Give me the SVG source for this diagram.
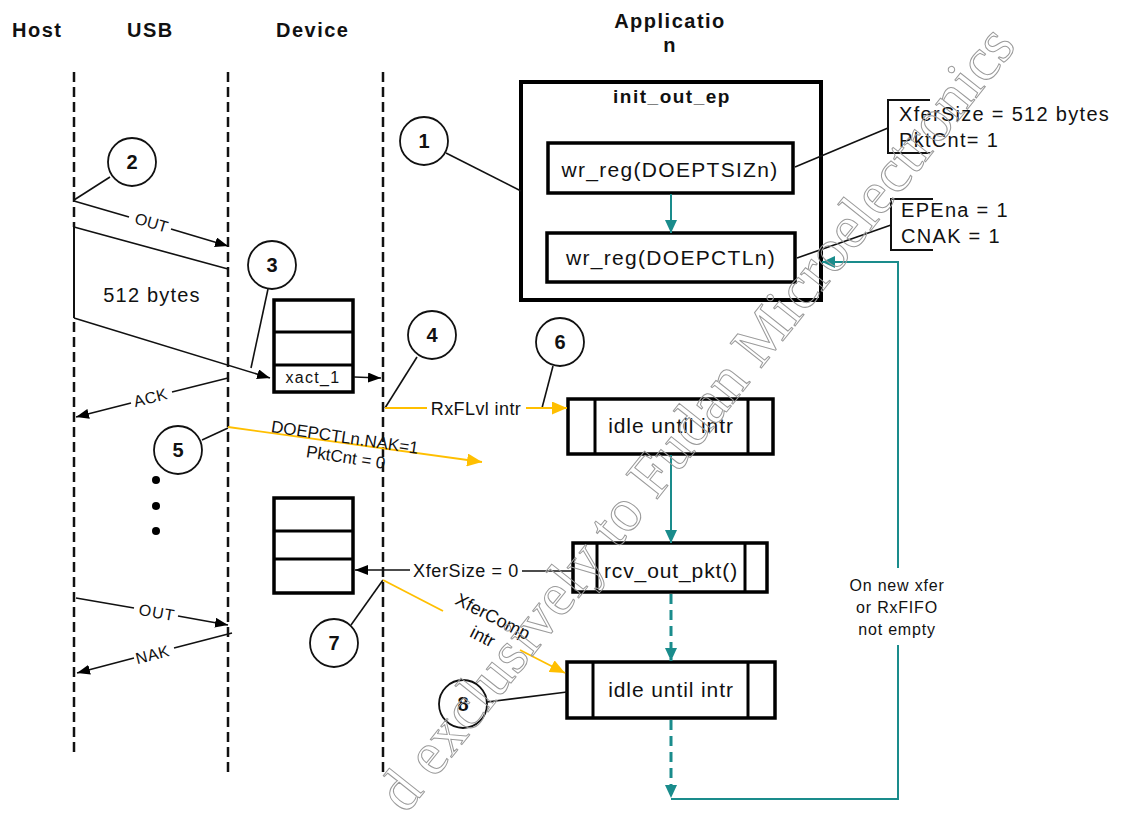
<svg xmlns="http://www.w3.org/2000/svg" width="1129" height="828" viewBox="0 0 1129 828">
<style>
.hdr{font-family:"Liberation Sans",Arial,sans-serif;font-weight:bold;font-size:20px;letter-spacing:1.5px;fill:#111}
.t{font-family:"Liberation Sans",Arial,sans-serif;fill:#111}
.life{stroke:#111;stroke-width:2.5;stroke-dasharray:10 5;fill:none}
.ln{stroke:#111;stroke-width:1.6;fill:none}
.box{stroke:#000;stroke-width:3.5;fill:#fff}
.thin{stroke:#000;stroke-width:3;fill:none}
.circ{stroke:#111;stroke-width:1.8;fill:#fff}
.yl{stroke:#FFBF00;stroke-width:1.8;fill:none}
.tl{stroke:#1a8c8c;stroke-width:2;fill:none}
.td{stroke:#1a8c8c;stroke-width:3;stroke-dasharray:10 6;fill:none}
.num{font-family:"Liberation Sans",Arial,sans-serif;font-weight:bold;font-size:20px;fill:#111;text-anchor:middle}
</style>
<defs>
<marker id="ab" markerWidth="13" markerHeight="10" refX="13" refY="5" orient="auto" markerUnits="userSpaceOnUse"><path d="M0,0 L13,5 L0,10 z" fill="#000"/></marker>
<marker id="ay" markerWidth="15" markerHeight="13" refX="15" refY="6.5" orient="auto" markerUnits="userSpaceOnUse"><path d="M0,0 L15,6.5 L0,13 z" fill="#FFBF00"/></marker>
<marker id="at" markerWidth="13" markerHeight="12" refX="13" refY="6" orient="auto" markerUnits="userSpaceOnUse"><path d="M0,0 L13,6 L0,12 z" fill="#1a8c8c"/></marker>
</defs>
<rect width="1129" height="828" fill="#fff"/>

<g id="headers">
<text class="hdr" x="12" y="37">Host</text>
<text class="hdr" x="127" y="37">USB</text>
<text class="hdr" x="276" y="37">Device</text>
<text class="hdr" x="670" y="28" text-anchor="middle">Applicatio</text>
<text class="hdr" x="670" y="52" text-anchor="middle">n</text>
</g>

<g id="lifelines">
<line class="life" x1="74" y1="72" x2="74" y2="227"/>
<line x1="74" y1="227" x2="74" y2="318" stroke="#111" stroke-width="2"/>
<line class="life" x1="74" y1="322" x2="74" y2="756"/>
<line class="life" x1="228" y1="72" x2="228" y2="772"/>
<line class="life" x1="383" y1="72" x2="383" y2="772"/>
</g>

<g id="app-box">
<rect x="521" y="82" width="300" height="218" fill="#fff" stroke="#000" stroke-width="4"/>
<text class="t" x="672" y="103" text-anchor="middle" font-weight="bold" font-size="19" letter-spacing="1.5">init_out_ep</text>
</g>
<g id="wr-doeptsiz">
<rect class="box" x="548" y="143" width="245" height="50"/>
<text class="t" x="670" y="177" text-anchor="middle" font-size="21" letter-spacing="1.3">wr_reg(DOEPTSIZn)</text>
</g>
<g id="wr-doepctl">
<rect class="box" x="547" y="233" width="248" height="49"/>
<text class="t" x="671" y="265" text-anchor="middle" font-size="21" letter-spacing="1.3">wr_reg(DOEPCTLn)</text>
</g>

<g id="note-xfersize">
<path d="M930,100 H888 V153 H930" stroke="#111" stroke-width="2" fill="none"/>
<text class="t" x="899" y="121" font-size="20" letter-spacing="1.3">XferSize = 512 bytes</text>
<text class="t" x="899" y="147" font-size="20" letter-spacing="1.3">PktCnt= 1</text>
</g>
<g id="note-epena">
<path d="M933,199 H891 V250 H933" stroke="#111" stroke-width="2" fill="none"/>
<text class="t" x="901" y="217" font-size="20" letter-spacing="1.3">EPEna = 1</text>
<text class="t" x="901" y="243" font-size="20" letter-spacing="1.3">CNAK = 1</text>
</g>

<g id="buffer1">
<rect x="274" y="300" width="79" height="92" fill="#fff" stroke="#000" stroke-width="3.5"/>
<line class="thin" x1="274" y1="332" x2="353" y2="332"/>
<line class="thin" x1="274" y1="365" x2="353" y2="365"/>
<text class="t" x="313" y="383" text-anchor="middle" font-size="16" letter-spacing="1.3">xact_1</text>
</g>
<g id="buffer2">
<rect x="274" y="498" width="79" height="95" fill="#fff" stroke="#000" stroke-width="3.5"/>
<line class="thin" x1="274" y1="531" x2="353" y2="531"/>
<line class="thin" x1="274" y1="559" x2="353" y2="559"/>
</g>

<g id="idle1">
<rect class="box" x="568" y="399" width="205" height="55"/>
<line class="thin" x1="595" y1="399" x2="595" y2="454"/>
<line class="thin" x1="748" y1="399" x2="748" y2="454"/>
<text class="t" x="671" y="433" text-anchor="middle" font-size="21" letter-spacing="0.9">idle until intr</text>
</g>
<g id="rcv">
<rect class="box" x="573" y="543" width="194" height="49"/>
<line class="thin" x1="597" y1="543" x2="597" y2="592"/>
<line class="thin" x1="745" y1="543" x2="745" y2="592"/>
<text class="t" x="671" y="578" text-anchor="middle" font-size="21" letter-spacing="0.9">rcv_out_pkt()</text>
</g>
<g id="idle2">
<rect class="box" x="567" y="662" width="208" height="56"/>
<line class="thin" x1="593" y1="662" x2="593" y2="718"/>
<line class="thin" x1="748" y1="662" x2="748" y2="718"/>
<text class="t" x="671" y="697" text-anchor="middle" font-size="21" letter-spacing="0.9">idle until intr</text>
</g>

<g id="connectors">
<line class="ln" x1="110" y1="177" x2="74" y2="200"/>
<line class="ln" x1="446" y1="153" x2="521" y2="191"/>
<line class="ln" x1="268" y1="289" x2="251" y2="368"/>
<line class="ln" x1="417" y1="357" x2="385" y2="408"/>
<line class="ln" x1="553" y1="366" x2="542" y2="408"/>
<line class="ln" x1="202" y1="440" x2="228" y2="428"/>
<line class="ln" x1="351" y1="625" x2="383" y2="580"/>
<line class="ln" x1="487" y1="702" x2="567" y2="692"/>
<line class="ln" x1="795" y1="167" x2="888" y2="128"/>
<line class="ln" x1="797" y1="258" x2="891" y2="225"/>

<line class="ln" x1="74" y1="201" x2="129" y2="217"/>
<line class="ln" x1="171" y1="229" x2="228" y2="246" marker-end="url(#ab)"/>
<text class="t" x="150" y="228" text-anchor="middle" font-size="16" transform="rotate(16 150 228)">OUT</text>
<line class="ln" x1="74" y1="227" x2="228" y2="269"/>
<line class="ln" x1="74" y1="318" x2="270" y2="378" marker-end="url(#ab)"/>
<text class="t" x="152" y="302" text-anchor="middle" font-size="20" letter-spacing="1.2">512 bytes</text>
<line class="ln" x1="354" y1="377" x2="381" y2="378" marker-end="url(#ab)"/>
<line class="ln" x1="228" y1="378" x2="172" y2="392"/>
<line class="ln" x1="131" y1="403" x2="76" y2="417" marker-end="url(#ab)"/>
<text class="t" x="152" y="403" text-anchor="middle" font-size="16" letter-spacing="0.5" transform="rotate(-14.5 152 403)">ACK</text>
<line class="yl" x1="228" y1="427" x2="482" y2="462" marker-end="url(#ay)"/>
<text class="t" x="344" y="443" text-anchor="middle" font-size="17" transform="rotate(8.5 344 443)">DOEPCTLn.NAK=1</text>
<text class="t" x="345" y="463" text-anchor="middle" font-size="17" transform="rotate(8.5 345 463)">PktCnt = 0</text>
<line class="yl" x1="385" y1="408" x2="427" y2="408"/>
<line class="yl" x1="526" y1="408" x2="567" y2="408" marker-end="url(#ay)"/>
<text class="t" x="476" y="415" text-anchor="middle" font-size="18" letter-spacing="0.4">RxFLvl intr</text>
<circle cx="156" cy="480" r="4" fill="#000"/>
<circle cx="156" cy="506" r="4" fill="#000"/>
<circle cx="156" cy="531" r="4" fill="#000"/>
<line class="ln" x1="573" y1="571" x2="522" y2="571"/>
<line class="ln" x1="410" y1="570" x2="355" y2="570" marker-end="url(#ab)"/>
<text class="t" x="466" y="577" text-anchor="middle" font-size="18" letter-spacing="0.6">XferSize = 0</text>
<line class="yl" x1="383" y1="580" x2="443" y2="611"/>
<line class="yl" x1="520" y1="650" x2="565" y2="673" marker-end="url(#ay)"/>
<text class="t" x="490" y="622" text-anchor="middle" font-size="18" transform="rotate(27 490 622)">XferComp</text>
<text class="t" x="480" y="642" text-anchor="middle" font-size="18" transform="rotate(27 480 642)">intr</text>
<line class="ln" x1="76" y1="598" x2="134" y2="608"/>
<line class="ln" x1="178" y1="616" x2="228" y2="625" marker-end="url(#ab)"/>
<text class="t" x="156" y="618" text-anchor="middle" font-size="16" letter-spacing="1" transform="rotate(10 156 618)">OUT</text>
<line class="ln" x1="232" y1="633" x2="174" y2="648"/>
<line class="ln" x1="134" y1="658" x2="77" y2="673" marker-end="url(#ab)"/>
<text class="t" x="154" y="660" text-anchor="middle" font-size="16" letter-spacing="0.5" transform="rotate(-14.5 154 660)">NAK</text>

<line class="tl" x1="671" y1="194" x2="671" y2="233" stroke-width="1.6" marker-end="url(#at)"/>
<line class="tl" x1="671" y1="455" x2="671" y2="543" stroke-width="1.6" marker-end="url(#at)"/>
<line class="td" x1="671" y1="594" x2="671" y2="661" marker-end="url(#at)"/>
<line class="td" x1="671" y1="720" x2="671" y2="798" marker-end="url(#at)"/>
<path class="tl" d="M671,799 H898 V645"/>
<path class="tl" d="M898,568 V262 H822" marker-end="url(#at)"/>
<text class="t" x="897" y="591" text-anchor="middle" font-size="16" letter-spacing="0.8">On new xfer</text>
<text class="t" x="897" y="613" text-anchor="middle" font-size="16" letter-spacing="0.8">or RxFIFO</text>
<text class="t" x="897" y="635" text-anchor="middle" font-size="16" letter-spacing="0.8">not empty</text>
</g>

<g id="c1"><circle class="circ" cx="424" cy="141" r="24"/><text class="num" x="424" y="148">1</text></g>
<g id="c2"><circle class="circ" cx="132" cy="162" r="24"/><text class="num" x="132" y="169">2</text></g>
<g id="c3"><circle class="circ" cx="272" cy="265" r="24"/><text class="num" x="272" y="272">3</text></g>
<g id="c4"><circle class="circ" cx="432" cy="335" r="24"/><text class="num" x="432" y="342">4</text></g>
<g id="c5"><circle class="circ" cx="178" cy="450" r="24"/><text class="num" x="178" y="457">5</text></g>
<g id="c6"><circle class="circ" cx="560" cy="342" r="24"/><text class="num" x="560" y="349">6</text></g>
<g id="c7"><circle class="circ" cx="334" cy="643" r="24"/><text class="num" x="334" y="650">7</text></g>
<g id="c8"><circle class="circ" cx="463" cy="704" r="24"/><text class="num" x="463" y="711">8</text></g>

<g id="watermark">
<text x="406" y="815" transform="rotate(-51.5 406 815)" font-family="Liberation Serif,serif" font-size="61" fill="none" stroke="#9a9a9a" stroke-width="1">d exclusively to Fudan Microelectronics</text>
</g>
</svg>
